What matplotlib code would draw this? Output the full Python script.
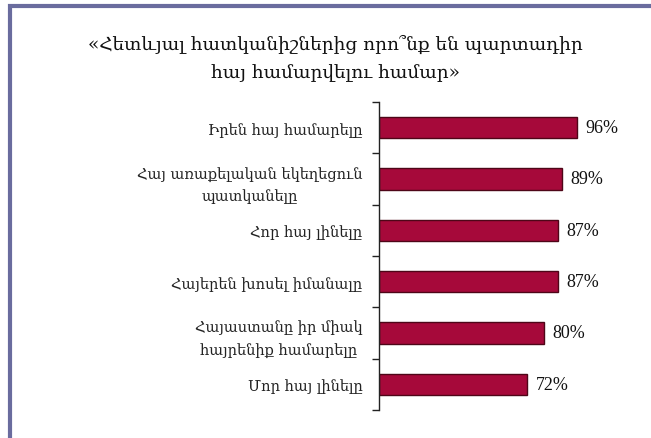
import matplotlib
matplotlib.use("Agg")
import matplotlib.pyplot as plt
from matplotlib.patches import Rectangle


# DADOS

categorias = [
    "Իրեն հայ համարելը",
    "Հայ առաքելական եկեղեցուն\nպատկանելը",
    "Հոր հայ լինելը",
    "Հայերեն խոսել իմանալը",
    "Հայաստանը իր միակ\nհայրենիք համարելը",
    "Մոր հայ լինելը",
]

valores = [96, 89, 87, 87, 80, 72]

rotulos = ["96%", "89%", "87%", "87%", "80%", "72%"]

titulo = "«Հետևյալ հատկանիշներից որո՞նք են պարտադիր\nհայ համարվելու համար»"


# FONTES

fonte_arm = ["DejaVu Serif", "DejaVu Sans"]
fonte_num = ["Liberation Serif", "DejaVu Serif"]


# GRÁFICO

fig = plt.figure(figsize=(6.51, 4.39), dpi=100)

ax = fig.add_axes([0.5822, 0.0638, 0.3164, 0.7016])

pos = list(range(len(categorias)))

ax.barh(
    pos,
    valores,
    height=0.41,
    color="#A6093A",
    edgecolor="#4E0618",
    linewidth=1
)

for p, v, r in zip(pos, valores, rotulos):
    ax.annotate(
        r,
        xy=(v, p),
        xytext=(6, 0),
        textcoords="offset points",
        va="center",
        ha="left",
        fontsize=13,
        family=fonte_num,
        color="#111111"
    )

ax.set_xlim(0, 100)
ax.set_ylim(len(categorias) - 0.5, -0.5)

ax.set_yticks(pos)
ax.set_yticklabels(categorias, family=fonte_arm, fontsize=10.5, color="#222222",
                   multialignment="center", linespacing=1.65)
ax.set_yticks([i - 0.5 for i in range(len(categorias) + 1)], minor=True)
ax.tick_params(axis="y", which="major", length=0, pad=12)
ax.tick_params(axis="y", which="minor", length=5, width=1, color="#222222")
ax.set_xticks([])

for lado in ["top", "right", "bottom"]:
    ax.spines[lado].set_visible(False)
ax.spines["left"].set_color("#222222")
ax.spines["left"].set_linewidth(1)

fig.text(
    0.515, 0.867,
    titulo,
    ha="center",
    va="center",
    fontsize=13.3,
    family=fonte_arm,
    color="#111111",
    linespacing=1.75
)

# moldura
fig.add_artist(Rectangle(
    (0.0146, -0.2), 1.3, 1.185,
    transform=fig.transFigure,
    fill=False,
    edgecolor="#6A6C9E",
    linewidth=3
))

fig.savefig("out.png", dpi=100)
